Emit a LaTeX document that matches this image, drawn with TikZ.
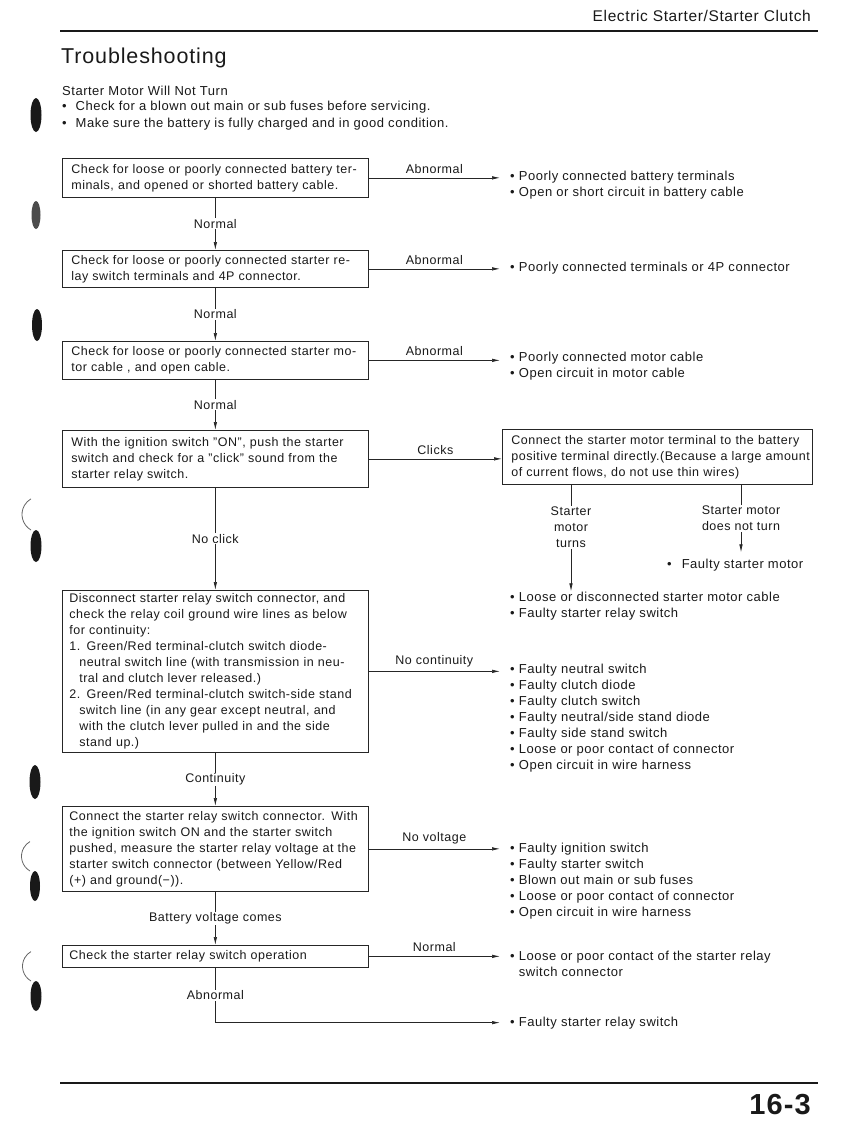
\documentclass[tikz,border=0pt]{standalone}
\usepackage{fontspec}
\setmainfont{Liberation Sans}[LetterSpace=4]
\usetikzlibrary{arrows.meta,calc}
\newcommand\fs{\fontsize{12.5}{16}\selectfont}
\newcommand\fr{\fontsize{13}{16}\selectfont}
\newcommand\J[2][288pt]{\makebox[#1][s]{#2}}
\tikzset{
 box/.style={draw=black!85, line width=0.7pt, anchor=north west, inner xsep=9pt, inner ysep=0pt,
   text width=288pt, align=left, font=\fs, text=black!90},
 res/.style={anchor=base west, inner xsep=10pt, inner ysep=0pt, align=left, font=\fr, text=black!90},
 lab/.style={font=\fs, inner sep=1pt, text=black!90},
 conn/.style={draw=black!85, line width=0.7pt},
 arr/.style={conn, -{Latex[length=8pt,width=3.5pt]}},
 blob/.style={fill=black!90, draw=none},
}
\begin{document}
\begin{tikzpicture}[x=1pt,y=-1pt]
\useasboundingbox (0,0) rectangle (849,1133);

% header
\node[anchor=base east, inner sep=0pt, font=\fontsize{15.5}{17}\selectfont, text=black!90] (hdr) at (811,21) {Electric Starter/Starter Clutch};
\draw[line width=2pt, black!90] (60,31) -- (818,31);
\node[anchor=base west, inner sep=0pt, font=\fontsize{21.5}{26}\selectfont, text=black!90] (title) at (61,63) {Troubleshooting};
\node[anchor=base west, inner sep=0pt, font=\fontsize{13}{14}\selectfont, text=black!90] (sub) at (62,95) {Starter Motor Will Not Turn};
\node[anchor=base west, inner sep=0pt, font=\fontsize{13}{14}\selectfont, text=black!90] (int1) at (62,110) {•\hspace{9pt}Check for a blown out main or sub fuses before servicing.};
\node[anchor=base west, inner sep=0pt, font=\fontsize{13}{14}\selectfont, text=black!90] (int2) at (62,127) {•\hspace{9pt}Make sure the battery is fully charged and in good condition.};

% margin marks
\fill[blob] (36,115) ellipse (5.5 and 17);
\fill[black!70] (36,215) ellipse (4.5 and 14);
\fill[blob] (37,325) ellipse (5 and 16);
\fill[blob] (36,546) ellipse (5.5 and 16);
\draw[black!60, line width=0.8pt] (31,530) arc (120:240:18);
\fill[blob] (35,782) ellipse (5.5 and 17);
\fill[blob] (35,886) ellipse (5 and 15);
\draw[black!60, line width=0.8pt] (30,871) arc (120:240:17);
\fill[blob] (36,996) ellipse (5.5 and 15);
\draw[black!60, line width=0.8pt] (31,981) arc (120:240:17);

% boxes
\node[box, minimum height=39pt] (b1) at (62,158) {\J{Check for loose or poorly connected battery ter-}\\minals, and opened or shorted battery cable.};
\node[box, minimum height=37pt] (b2) at (62,250) {\J{Check for loose or poorly connected starter re-}\\lay switch terminals and 4P connector.};
\node[box, minimum height=38pt] (b3) at (62,341) {\J{Check for loose or poorly connected starter mo-}\\tor cable , and open cable.};
\node[box, minimum height=57pt] (b4) at (62,430) {\J{With the ignition switch ''ON'', push the starter}\\\J{switch and check for a ''click'' sound from the}\\starter relay switch.};
\node[box, text width=292pt, minimum height=55pt] (b5) at (502,429) {\J[292pt]{Connect the starter motor terminal to the battery}\\\J[292pt]{positive terminal directly.(Because a large amount}\\of current flows, do not use thin wires)};
\node[box, inner xsep=7pt, text width=292pt, minimum height=162pt] (b6) at (62,590) {\J[292pt]{Disconnect starter relay switch connector, and}\\
\J[292pt]{check the relay coil ground wire lines as below}\\
for continuity:\\
\J[292pt]{1. Green/Red terminal-clutch switch diode-}\\
\hspace*{10pt}\J[282pt]{neutral switch line (with transmission in neu-}\\
\hspace*{10pt}tral and clutch lever released.)\\
\J[292pt]{2. Green/Red terminal-clutch switch-side stand}\\
\hspace*{10pt}\J[282pt]{switch line (in any gear except neutral, and}\\
\hspace*{10pt}\J[282pt]{with the clutch lever pulled in and the side}\\
\hspace*{10pt}stand up.)};
\node[box, inner xsep=7pt, text width=292pt, minimum height=85pt] (b7) at (62,806) {\J[292pt]{Connect the starter relay switch connector. With}\\
\J[292pt]{the ignition switch ON and the starter switch}\\
\J[292pt]{pushed, measure the starter relay voltage at the}\\
\J[292pt]{starter switch connector (between Yellow/Red}\\
(+) and ground(−)).};
\node[box, inner xsep=7pt, text width=292pt, minimum height=22pt] (b8) at (62,945) {Check the starter relay switch operation};

% results (anchor at the baseline of the last line)
\node[res] (r1) at (500,196) {• Poorly connected battery terminals\\• Open or short circuit in battery cable};
\node[res] (r2) at (500,271) {• Poorly connected terminals or 4P connector};
\node[res] (r3) at (500,377) {• Poorly connected motor cable\\• Open circuit in motor cable};
\node[res] (r5) at (500,617) {• Loose or disconnected starter motor cable\\• Faulty starter relay switch};
\node[res, inner xsep=0pt, inner ysep=6pt] (r6) at (667,568) {•\hspace{10pt}Faulty starter motor};
\node[res] (r7) at (500,769) {• Faulty neutral switch\\• Faulty clutch diode\\• Faulty clutch switch\\• Faulty neutral/side stand diode\\• Faulty side stand switch\\• Loose or poor contact of connector\\• Open circuit in wire harness};
\node[res] (r8) at (500,916) {• Faulty ignition switch\\• Faulty starter switch\\• Blown out main or sub fuses\\• Loose or poor contact of connector\\• Open circuit in wire harness};
\node[res] (r9) at (500,976) {• Loose or poor contact of the starter relay\\\phantom{• }switch connector};
\node[res] (r10) at (500,1026) {• Faulty starter relay switch};

% vertical flow
\draw[arr] (b1) -- node[lab, fill=white] {Normal} (b2);
\draw[arr] (b2) -- node[lab, fill=white] {Normal} (b3);
\draw[arr] (b3) -- node[lab, fill=white] {Normal} (b4);
\draw[arr] (b4) -- node[lab, fill=white] {No click} (b6);
\draw[arr] (b6) -- node[lab, fill=white] {Continuity} (b7);
\draw[arr] (b7) -- node[lab, fill=white] {Battery voltage comes} (b8);
\draw[arr] (b8.south) -- node[lab, fill=white] {Abnormal} (b8.south |- r10.west) -- (r10.west);

% horizontal flow
\draw[arr] (b1.east) -- (b1.east -| r1.west) node[midway, above=3pt, lab] {Abnormal};
\draw[arr] (b2.east) -- (b2.east -| r2.west) node[midway, above=3pt, lab] {Abnormal};
\draw[arr] (b3.east) -- (b3.east -| r3.west) node[midway, above=3pt, lab] {Abnormal};
\draw[arr] (b4.east) -- (b4.east -| b5.west) node[midway, above=3pt, lab] {Clicks};
\draw[arr] (b6.east) -- (b6.east -| r7.west) node[midway, above=3pt, lab] {No continuity};
\draw[arr] (b7.east) -- (b7.east -| r8.west) node[midway, above=3pt, lab] {No voltage};
\draw[arr] (b8.east) -- (b8.east -| r9.west) node[midway, above=3pt, lab] {Normal};

% branches from b5
\coordinate (s1) at ($(b5.south west)+(69,0)$);
\coordinate (s2) at ($(b5.south west)+(239,0)$);
\draw[arr] (s1) -- (s1 |- r5.north) node[pos=0.4, lab, fill=white, align=center] {Starter\\motor\\turns};
\draw[arr] (s2) -- (s2 |- r6.north) node[pos=0.5, lab, fill=white, align=center] {Starter motor\\does not turn};

% footer
\draw[line width=2pt, black!90] (60,1083) -- (818,1083);
\node[anchor=base east, inner sep=0pt, font=\fontsize{29}{30}\bfseries\selectfont, text=black!90] (pg) at (811,1114) {16-3};
\end{tikzpicture}
\end{document}
